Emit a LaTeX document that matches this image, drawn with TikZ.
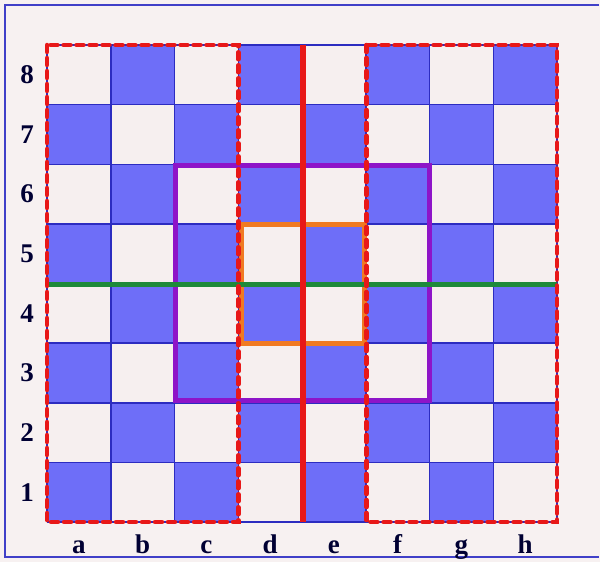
\documentclass[tikz,border=0pt]{standalone}
\usepackage{fontspec}
\setmainfont{Liberation Serif}
\definecolor{bg}{HTML}{F7F1F1}
\definecolor{lightsq}{HTML}{F6EFEF}
\definecolor{darksq}{HTML}{6E6EF8}
\definecolor{gridc}{HTML}{2C2CC0}
\definecolor{framec}{HTML}{4040C8}
\definecolor{redc}{HTML}{E81818}
\definecolor{greenc}{HTML}{1E8A3A}
\definecolor{purplec}{HTML}{8E14C8}
\definecolor{orangec}{HTML}{F07A22}
\begin{document}
\begin{tikzpicture}[x=1pt,y=-1pt,
  lbl/.style={font=\fontsize{27}{27}\selectfont\bfseries, text=black!80!blue, inner sep=0pt},
  zone/.style={draw=redc, line width=4.5pt, dash pattern=on 7pt off 6pt, line cap=round},
  sqline/.style={draw=gridc, line width=1.5pt}]
\useasboundingbox (0,0) rectangle (600,562);
\fill[bg] (0,0) rectangle (600,562);
\draw[framec, line width=2.5pt] (599,5) -- (5,5) -- (5,557) -- (599,557);
% squares
\foreach \f in {0,...,7}{
  \foreach \r in {0,...,7}{
    \pgfmathtruncatemacro{\sqpar}{mod(\f+\r,2)}
    \ifnum\sqpar=0 \def\sq{darksq}\else\def\sq{lightsq}\fi
    \fill[\sq] ({47+\f*63.75},{522-(\r+1)*59.625}) rectangle ({47+(\f+1)*63.75},{522-\r*59.625});
  }
}
\foreach \i in {0,...,8}{
  \draw[sqline] ({47+\i*63.75},45) -- ({47+\i*63.75},522);
  \draw[sqline] (47,{45+\i*59.625}) -- (557,{45+\i*59.625});
}
% labels
\foreach \n [count=\r] in {1,...,8}{
  \node[lbl] (rank\n) at (27,{522-(\r-0.5)*59.625}) {\n};
}
\foreach \l [count=\f] in {a,b,c,d,e,f,g,h}{
  \node[lbl, anchor=base] (file\l) at ({47+(\f-0.5)*63.75},553) {\l};
}
% regions
\draw[purplec, line width=5pt] (175.5,165.5) rectangle (429.5,400.5);
\draw[orangec, line width=5pt] (241.5,224) rectangle (364.5,343);
\draw[greenc, line width=5pt] (47,284) -- (557,284);
\draw[zone] (47,45) rectangle (238.25,522);
\draw[zone] (366.5,45) rectangle (557,522);
\draw[redc, line width=6pt] (303,45) -- (303,522);
\end{tikzpicture}
\end{document}
